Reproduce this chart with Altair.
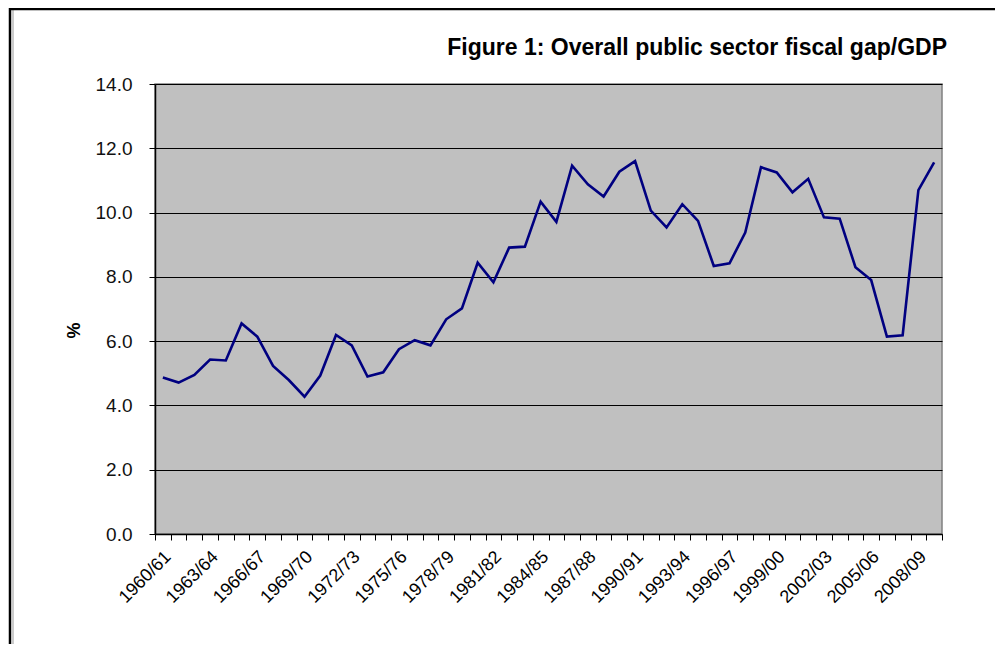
import altair as alt
import pandas as pd

years = [
    "1960/61", "1961/62", "1962/63", "1963/64", "1964/65", "1965/66", "1966/67", "1967/68", "1968/69", "1969/70",
    "1970/71", "1971/72", "1972/73", "1973/74", "1974/75", "1975/76", "1976/77", "1977/78", "1978/79", "1979/80",
    "1980/81", "1981/82", "1982/83", "1983/84", "1984/85", "1985/86", "1986/87", "1987/88", "1988/89", "1989/90",
    "1990/91", "1991/92", "1992/93", "1993/94", "1994/95", "1995/96", "1996/97", "1997/98", "1998/99", "1999/00",
    "2000/01", "2001/02", "2002/03", "2003/04", "2004/05", "2005/06", "2006/07", "2007/08", "2008/09", "2009/10",
]
gap = [
    4.87, 4.71, 4.95, 5.43, 5.40, 6.55, 6.14, 5.23, 4.79, 4.27,
    4.93, 6.19, 5.87, 4.90, 5.03, 5.75, 6.03, 5.87, 6.68, 7.02,
    8.44, 7.83, 8.91, 8.94, 10.34, 9.71, 11.46, 10.88, 10.50, 11.27,
    11.60, 10.06, 9.54, 10.26, 9.74, 8.34, 8.42, 9.38, 11.41, 11.25,
    10.63, 11.05, 9.85, 9.81, 8.30, 7.90, 6.14, 6.18, 10.70, 11.56,
]
y_ticks = [0, 2, 4, 6, 8, 10, 12, 14]
title_text = "Figure 1: Overall public sector fiscal gap/GDP"

n = len(years)
idx = list(range(n))
# category boundaries (ticks sit between categories)
x_edges = [i - 0.5 for i in range(n + 1)]

df = pd.DataFrame({"idx": idx, "year": years, "gap": gap})
title_df = pd.DataFrame({"t": [title_text]})
FONT = "Liberation Sans"

PLOT_W = 787
PLOT_H = 450
half_band = PLOT_W / n / 2

label_expr = (
    "((datum.value + 0.5) % 3 == 0 && datum.value < 49) ? "
    "(toString(1960 + datum.value + 0.5) + '/' + substring(toString(1961 + datum.value + 0.5), 2, 4)) : ''"
)

line = alt.Chart(df).mark_line(color="#000080", strokeWidth=2.6).encode(
    x=alt.X(
        "idx:Q",
        scale=alt.Scale(domain=[-0.5, n - 0.5], nice=False, zero=False),
        axis=alt.Axis(
            title=None,
            values=x_edges,
            labelExpr=label_expr,
            labelOverlap=False,
            labelOffset=half_band + 5,
            labelAngle=-45,
            labelAlign="right",
            labelBaseline="middle",
            labelFontSize=18,
            labelFont=FONT,
            labelColor="#000000",
            labelPadding=14,
            labelFlush=False,
            labelBound=False,
            tickSize=6,
            tickColor="#000000",
            domainColor="#000000",
            domainWidth=1.5,
            grid=False,
        ),
    ),
    y=alt.Y(
        "gap:Q",
        scale=alt.Scale(domain=[0, 14], nice=False, zero=True),
        axis=alt.Axis(
            title="%",
            titleFont=FONT,
            titleFontSize=18,
            titleFontWeight="bold",
            titleColor="#000000",
            titleAngle=-90,
            titleX=-81,
            titleY=246,
            titleAlign="center",
            titleBaseline="middle",
            values=y_ticks,
            format=".1f",
            labelFontSize=19,
            labelFont=FONT,
            labelColor="#111111",
            labelPadding=17,
            tickSize=6,
            tickColor="#000000",
            domainColor="#000000",
            domainWidth=1.5,
            grid=True,
            gridColor="#000000",
            gridWidth=1.2,
        ),
    ),
)

title_mark = alt.Chart(title_df).mark_text(
    align="right",
    baseline="alphabetic",
    font=FONT,
    fontSize=23,
    fontWeight="bold",
    color="#000000",
).encode(text="t:N", x=alt.value(792), y=alt.value(-29))

frame_df = pd.DataFrame({"k": [0]})
frame_left = alt.Chart(frame_df).mark_rule(color="#000000", strokeWidth=2.5).encode(
    x=alt.value(-145), y=alt.value(-76), y2=alt.value(600)
)
frame_left2 = alt.Chart(frame_df).mark_rule(color="#999999", strokeWidth=1).encode(
    x=alt.value(-142), y=alt.value(-74), y2=alt.value(600)
)
frame_top = alt.Chart(frame_df).mark_rule(color="#000000", strokeWidth=2.5).encode(
    x=alt.value(-146), x2=alt.value(845), y=alt.value(-75)
)

chart = (
    alt.layer(line, title_mark, frame_left, frame_left2, frame_top)
    .properties(
        width=PLOT_W,
        height=PLOT_H,
        padding={"left": 147, "top": 76, "right": 53, "bottom": 110},
        autosize=alt.AutoSizeParams(type="none"),
        background="#ffffff",
    )
    .configure_view(fill="#C0C0C0", stroke="#808080", strokeWidth=1.5)
)

chart.save("out.html", embed_options={"renderer": "svg", "actions": False})
